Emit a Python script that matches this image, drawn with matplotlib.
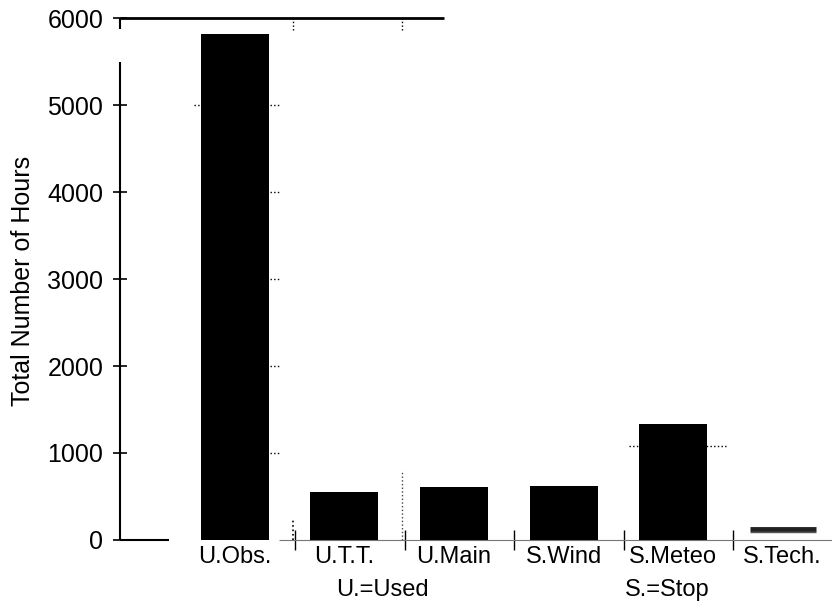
import numpy as np
import matplotlib.pyplot as plt

plt.rcParams['font.family'] = ['Liberation Sans', 'DejaVu Sans']

# data
categories = ['U.Obs.', 'U.T.T.', 'U.Main', 'S.Wind', 'S.Meteo', 'S.Tech.']
hours = [5820, 550, 610, 620, 1330, 150]
group_labels = ['U.=Used', 'S.=Stop']
group_pos = [1.35, 3.95]
yticks = [0, 1000, 2000, 3000, 4000, 5000, 6000]

fig = plt.figure(figsize=(8.32, 6.04), dpi=100)
ax = fig.add_axes([0.144, 0.106, 0.856, 0.864])

x = np.arange(len(categories))
solid = [h if c != 'S.Tech.' else 0 for c, h in zip(categories, hours)]
ax.bar(x, solid, width=0.62, color='black', zorder=3)
# S.Tech. is only a thin strip in the original
i_tech = categories.index('S.Tech.')
ax.hlines(hours[i_tech] - 20, i_tech - 0.3, i_tech + 0.3, color='#222222', lw=3.5, zorder=3)
ax.hlines(hours[i_tech] - 55, i_tech - 0.3, i_tech + 0.3, color='#555555', lw=1, zorder=3)

ax.set_xlim(-1.05, 5.45)
ax.set_ylim(0, 6000)

for s in ax.spines.values():
    s.set_visible(False)

# broken left axis and top rule at 6000
ax.vlines(-1.05, 0, 5500, color='black', lw=1.5, clip_on=False)
ax.vlines(-1.05, 5880, 6000, color='black', lw=1.5, clip_on=False)
ax.hlines(6000, -1.05, 1.91, color='black', lw=2, clip_on=False)
ax.hlines(0, -1.05, -0.6, color='black', lw=1.5, clip_on=False)
ax.hlines(0, 0.4, 5.45, color='#777777', lw=0.8, clip_on=False)

ax.set_yticks(yticks)
ax.set_yticklabels([str(v) for v in yticks], fontsize=18)
ax.tick_params(axis='y', direction='inout', length=10, width=1.2, pad=7)

ax.set_xticks(x)
ax.set_xticklabels(categories, fontsize=17)
ax.tick_params(axis='x', length=0, pad=4)
ax.set_xticks(x[:-1] + 0.55, minor=True)
ax.tick_params(axis='x', which='minor', direction='inout', length=14, width=1)

ax.set_ylabel('Total Number of Hours', fontsize=18)
ax.yaxis.set_label_coords(-0.119, 0.496)

for lbl, p in zip(group_labels, group_pos):
    ax.text(p, -0.075, lbl, transform=ax.get_xaxis_transform(), ha='center', va='top', fontsize=17)

# faint dotted marks left over in the scan
ax.vlines([0.53, 1.53], 5860, 6000, color='black', lw=1, ls=':')
ax.vlines(0.53, 0, 250, color='black', lw=1.2, ls=':')
ax.vlines(1.53, 0, 800, color='#444444', lw=1, ls=':')
ax.hlines(5000, -0.37, -0.3, color='black', lw=1, ls=':')
for v in yticks[1:6]:
    ax.hlines(v, 0.32, 0.42, color='black', lw=1, ls=':')
ax.hlines(1080, 3.6, 4.5, color='black', lw=1, ls=':', zorder=4)

fig.savefig('out.png', dpi=100)
